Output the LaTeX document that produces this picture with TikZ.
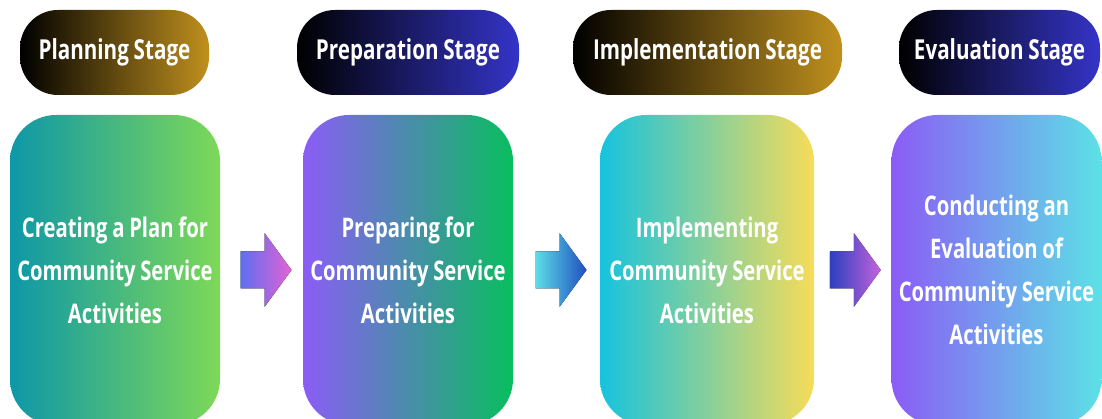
\documentclass[tikz,border=0pt]{standalone}
\usepackage{fontspec}
\setmainfont{Open Sans}[FakeStretch=0.75, WordSpace=0.9]
\usetikzlibrary{calc}
\definecolor{goldR}{HTML}{C0901E}
\definecolor{blueR}{HTML}{3434C8}
\definecolor{tealL}{HTML}{0E97A8}
\definecolor{greenR}{HTML}{7ED957}
\definecolor{purpL}{HTML}{8B5CF6}
\definecolor{greenR2}{HTML}{08BE5E}
\definecolor{cyanL}{HTML}{16C3DE}
\definecolor{yellR}{HTML}{F7DC58}
\definecolor{cyanR}{HTML}{5CE1E6}
\definecolor{arAL}{HTML}{5E6EF2}
\definecolor{arAR}{HTML}{E362D2}
\definecolor{arBL}{HTML}{5CDCE8}
\definecolor{arBR}{HTML}{1F4FBF}
\definecolor{arCL}{HTML}{2B3FBF}
\definecolor{arCR}{HTML}{C562DD}
\tikzset{
  stagebox/.style={rounded corners=46pt, minimum width=210pt, minimum height=310pt,
    text width=210pt, align=flush center, inner sep=0pt, text=white,
    font=\bfseries\fontsize{27}{43}\selectfont},
  pill/.style={rounded corners=38pt, minimum height=85pt, inner sep=0pt, text=white,
    font=\bfseries\fontsize{27.5}{32}\selectfont},
}
\newcommand{\blockarrow}[3]{%
  \fill[left color=#2, right color=#3]
    ($(#1)+(-25,-18.5)$) -- ($(#1)+(-1,-18.5)$) -- ($(#1)+(-1,-37)$) --
    ($(#1)+(26,0)$) -- ($(#1)+(-1,37)$) -- ($(#1)+(-1,18.5)$) --
    ($(#1)+(-25,18.5)$) -- cycle;}
\begin{document}
\begin{tikzpicture}[x=1pt,y=-1pt]
\useasboundingbox (0,0) rectangle (1102,419);
\clip (0,0) rectangle (1102,419);
% stage headers
\node[pill, minimum width=189pt, left color=black, right color=goldR] (p1) at (114.5,52.5) {\raisebox{-1.5pt}{Planning Stage}};
\node[pill, minimum width=222pt, left color=black, right color=blueR] (p2) at (408,52.5) {\raisebox{-1.5pt}{Preparation Stage}};
\node[pill, minimum width=269pt, left color=black, right color=goldR] (p3) at (707.5,52.5) {\raisebox{-1.5pt}{Implementation Stage}};
\node[pill, minimum width=201pt, left color=black, right color=blueR] (p4) at (999.5,52.5) {\raisebox{-1.5pt}{Evaluation Stage}};
% boxes
\node[stagebox, left color=tealL, right color=greenR] (b1) at (115,270) {Creating a Plan for\\Community Service\\Activities};
\node[stagebox, left color=purpL, right color=greenR2] (b2) at (408,270) {Preparing for\\Community Service\\Activities};
\node[stagebox, minimum width=214pt, left color=cyanL, right color=yellR] (b3) at (707,270) {Implementing\\Community Service\\Activities};
\node[stagebox, minimum width=207pt, left color=purpL, right color=cyanR] (b4) at (996.5,270) {Conducting an\\Evaluation of\\Community Service\\Activities};
% arrows
\coordinate (a1) at ($($(b1.east)!0.5!(b2.west)$)+(4,0)$);
\coordinate (a2) at ($($(b2.east)!0.5!(b3.west)$)+(4,0)$);
\coordinate (a3) at ($($(b3.east)!0.5!(b4.west)$)+(2,0)$);
\blockarrow{a1}{arAL}{arAR}
\blockarrow{a2}{arBL}{arBR}
\blockarrow{a3}{arCL}{arCR}
\end{tikzpicture}
\end{document}
